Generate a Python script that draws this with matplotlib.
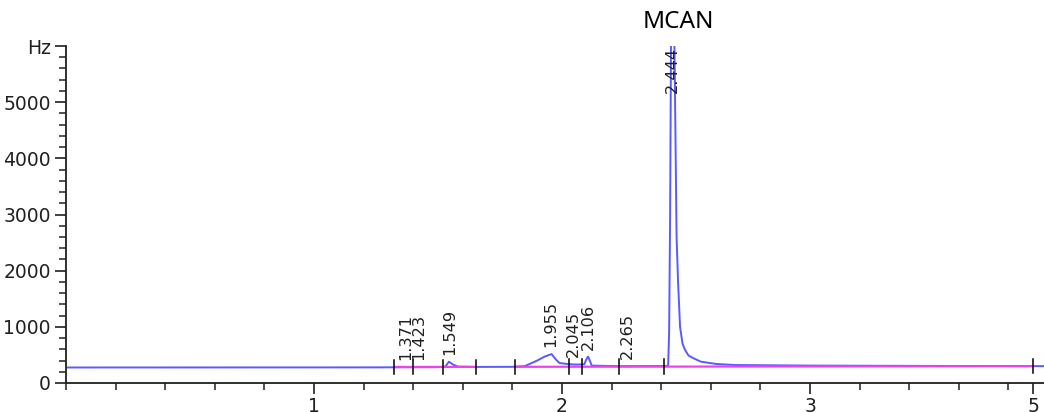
import numpy as np
import matplotlib
matplotlib.use("Agg")
import matplotlib.pyplot as plt
from matplotlib.ticker import MultipleLocator

# Chromatogram trace (retention time in min, detector signal in Hz)
time_min = [0.00, 0.60, 1.20, 1.30, 1.50, 1.530, 1.544, 1.560, 1.580, 1.650,
            1.800, 1.850, 1.900, 1.930, 1.958, 1.975, 1.990, 2.020, 2.045, 2.070,
            2.090, 2.098, 2.105, 2.112, 2.120, 2.200, 2.265, 2.400, 2.428, 2.432,
            2.436, 2.440, 2.452, 2.456, 2.462, 2.468, 2.476, 2.486, 2.496, 2.510,
            2.528, 2.560, 2.620, 2.700, 3.000, 3.500, 3.940]
signal_hz = [276, 277, 278, 279, 282, 292, 380, 330, 292, 286,
             288, 300, 400, 470, 515, 420, 355, 340, 330, 330,
             335, 420, 470, 400, 310, 302, 300, 302, 305, 900,
             3000, 6500, 6500, 5000, 2600, 1800, 1000, 700, 590, 490,
             445, 380, 340, 320, 310, 304, 300]

# Integrated peaks
peak_rt = [1.371, 1.423, 1.549, 1.955, 2.045, 2.106, 2.265, 2.444]
peak_names = ["1.371", "1.423", "1.549", "1.955", "2.045", "2.106", "2.265", "2.444"]

# Integration boundaries and baseline segments
boundary_rt = [1.323, 1.400, 1.520, 1.653, 1.810, 2.030, 2.080, 2.230, 2.410, 3.900]
baseline_segments = [(1.323, 1.653), (1.810, 3.900)]
baseline_hz = (278, 300)

compound = "MCAN"
x_major = [1, 2, 3, 3.9]
x_major_labels = ["1", "2", "3", "5"]
y_major = [0, 1000, 2000, 3000, 4000, 5000, 6000]
y_major_labels = ["0", "1000", "2000", "3000", "4000", "5000", "Hz"]

plt.rcParams["font.family"] = ["DejaVu Sans"]
fig = plt.figure(figsize=(10.44, 4.12), dpi=100)
ax = fig.add_axes([66 / 1044, 29 / 412, 978 / 1044, 337 / 412])

x0, x1 = 0.0, 978 / 248
ax.set_xlim(x0, x1)
ax.set_ylim(0, 6000)

# baseline level varies slowly along the run
def base_at(t):
    return np.interp(t, [0, x1], baseline_hz)

ax.plot(time_min, signal_hz, color="#5a5aff", lw=1.4, zorder=2, solid_joinstyle="round")

for a, b in baseline_segments:
    ax.plot([a, b], [base_at(a), base_at(b)], color="#f040f0", lw=1.6, zorder=3)

for t in boundary_rt:
    yb = base_at(t)
    ax.plot([t, t], [yb - 130, yb + 130], color="black", lw=1.1, zorder=4)

for rt, name in zip(peak_rt, peak_names):
    if rt == 2.444:
        ax.text(rt, 5990, name, rotation=90, ha="center", va="top",
                fontsize=11.6, color="#202020", zorder=5)
    else:
        yv = float(np.interp(rt, time_min, signal_hz)) + 130
        ax.text(rt, yv, name, rotation=90, ha="center", va="bottom",
                fontsize=11.6, color="#202020", zorder=5)

fig.text(678 / 1044, 1 - 22 / 412, compound, ha="center", va="center",
         fontsize=17.5, family="Noto Sans", color="black")

for s in ("top", "right"):
    ax.spines[s].set_visible(False)
for s in ("left", "bottom"):
    ax.spines[s].set_linewidth(1.3)
    ax.spines[s].set_color("#202020")

ax.set_xticks(x_major)
ax.set_xticklabels(x_major_labels)
ax.xaxis.set_minor_locator(MultipleLocator(0.2))
ax.set_yticks(y_major)
ax.set_yticklabels(y_major_labels)
ax.yaxis.set_minor_locator(MultipleLocator(200))
ax.tick_params(which="major", length=8, width=1.2, labelsize=13.5, color="#202020",
               labelcolor="#202020", pad=3)
ax.tick_params(axis="x", which="major", pad=2)
ax.tick_params(which="minor", length=5, width=1.1, color="#202020")

fig.savefig("out.png", dpi=100)
